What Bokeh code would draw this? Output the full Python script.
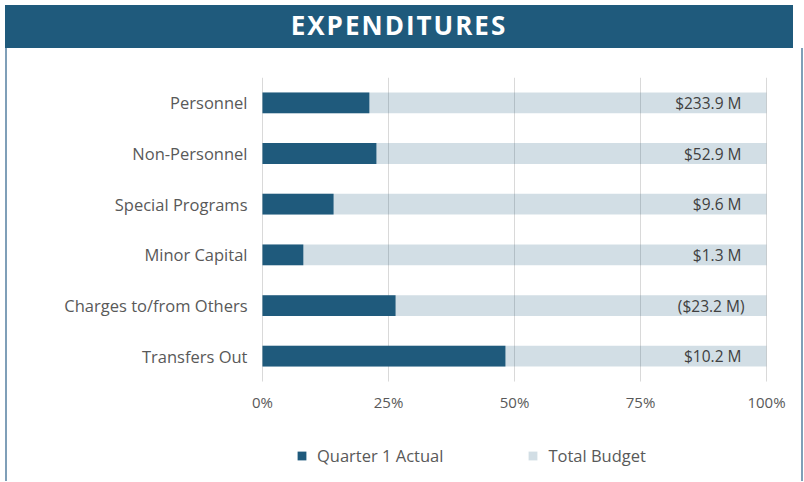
from bokeh.plotting import figure
from bokeh.models import Range1d, Div, Legend, LegendItem
from bokeh.layouts import column, row
from bokeh.embed import file_html
from bokeh.resources import INLINE
from bokeh.core.properties import value

# ---- data ----
title_text = "EXPENDITURES"
categories = ["Personnel", "Non-Personnel", "Special Programs",
              "Minor Capital", "Charges to/from Others", "Transfers Out"]
actual_share = [0.212, 0.226, 0.141, 0.081, 0.264, 0.482]
budget_share = [1.0, 1.0, 1.0, 1.0, 1.0, 1.0]
budget_labels = ["$233.9 M", "$52.9 M", "$9.6 M", "$1.3 M", "($23.2 M)", "$10.2 M"]
x_ticks = [0, 0.25, 0.5, 0.75, 1.0]
series_names = ["Quarter 1 Actual", "Total Budget"]

DARK = "#1f5a7c"
BORDER = "#7f9fb8"
TEXT = "#595959"
FONT = "Open Sans"

n = len(categories)
ypos = list(range(n))[::-1]            # first category on top
band_top = ypos[0] + 0.5
band_bottom = ypos[-1] - 0.5
px_per_band = 50.67
frame_h = 399
fig_w = 784
px_per_unit = 504                      # pixels for 100 %
left_px = 250                          # pixels left of the 0 % line
x_start = -left_px / px_per_unit
tick_labels = [f"{round(t * 100)}%" for t in x_ticks]

p = figure(width=fig_w, height=423,
           x_range=Range1d(x_start, x_start + fig_w / px_per_unit),
           y_range=Range1d(band_top - frame_h / px_per_band, band_top),
           output_backend="svg", toolbar_location=None,
           min_border_left=0, min_border_right=0,
           min_border_top=24, min_border_bottom=0)
p.outline_line_color = None
p.background_fill_color = "white"
p.border_fill_color = "white"
p.grid.visible = False
p.axis.visible = False

# vertical grid lines over the bar band
p.segment(x0=x_ticks, y0=[band_bottom] * len(x_ticks),
          x1=x_ticks, y1=[band_top] * len(x_ticks),
          line_color="#d9d9d9", line_width=1)

r_budget = p.hbar(y=ypos, left=0, right=budget_share, height=0.41,
                  fill_color=DARK, fill_alpha=0.2, line_color=None)
r_actual = p.hbar(y=ypos, left=0, right=actual_share, height=0.41,
                  fill_color=DARK, line_color=None)

offsets = [-22 if lab.startswith("(") else -25 for lab in budget_labels]
p.text(x=budget_share, y=ypos, text=budget_labels, x_offset=offsets,
       text_align="right", text_baseline="middle",
       text_font=value(FONT), text_font_size="15.5px", text_color="#404040")

# category labels left of the 0 % line
p.text(x=[0] * n, y=ypos, text=categories, x_offset=-15,
       text_align="right", text_baseline="middle",
       text_font=value(FONT), text_font_size="16.5px", text_color=TEXT)

# x tick labels under the band
p.text(x=x_ticks, y=[band_bottom] * len(x_ticks), text=tick_labels, y_offset=20,
       text_align="center", text_baseline="middle",
       text_font=value(FONT), text_font_size="15px", text_color=TEXT)

legend = Legend(items=[LegendItem(label=series_names[0], renderers=[r_actual]),
                       LegendItem(label=series_names[1], renderers=[r_budget])],
                location=(284, 9), orientation="horizontal",
                glyph_width=11, glyph_height=11, label_standoff=10, spacing=84,
                padding=0, margin=0, border_line_color=None,
                background_fill_alpha=0,
                label_text_font=FONT, label_text_font_size="16.5px",
                label_text_color=TEXT)
p.add_layout(legend, "center")

header = Div(text=f'<div style="width:788px;height:43px;line-height:40px;'
                  f'text-align:center;color:white;font-family:\'Open Sans\';'
                  f'font-weight:bold;font-size:26px;letter-spacing:2px;">'
                  f'{title_text}</div>',
             width=788, height=43, styles={"background-color": DARK})
border_styles = {"background-color": BORDER, "box-shadow": f"0 -10px 0 {BORDER}"}
left_border = Div(text="", width=2, height=423, styles=border_styles)
right_border = Div(text="", width=2, height=423, styles=border_styles)

layout = column(header, row(left_border, p, right_border))

open("out.html", "w").write(file_html(layout, INLINE))
